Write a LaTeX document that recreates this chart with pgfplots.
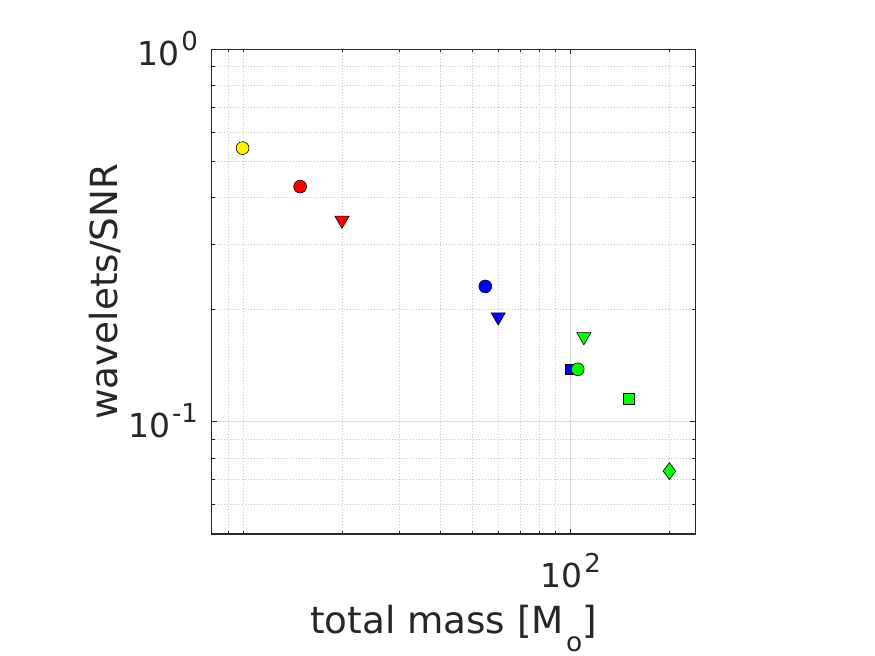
\documentclass[border=0pt]{standalone}
\usepackage{fontspec}
\setmainfont{DejaVu Sans}
\usepackage{pgfplots}
\pgfplotsset{compat=1.18}
\definecolor{txt}{HTML}{262626}
\definecolor{mgrid}{HTML}{DCDCDC}
\definecolor{ngrid}{HTML}{C4C4C4}
\newcommand{\tk}[1]{10\kern1.5bp\raisebox{15bp}{\fontsize{26bp}{26bp}\selectfont #1}}
\begin{document}
\begin{tikzpicture}
\path[use as bounding box] (0,0) rectangle (875bp,656bp);
\begin{axis}[
  at={(211.7bp,122bp)}, anchor=south west,
  scale only axis, width=483.6bp, height=484.7bp,
  xmode=log, ymode=log,
  xmin=8, xmax=240, ymin=0.05, ymax=1,
  xtick={100}, xticklabels={\tk{2}},
  ytick={0.1,1}, yticklabels={\tk{-1},\tk{0}},
  minor xtick={9,10,20,30,40,50,60,70,80,90,200},
  minor ytick={0.06,0.07,0.08,0.09,0.2,0.3,0.4,0.5,0.6,0.7,0.8,0.9},
  grid=both,
  major grid style={draw=mgrid, line width=0.8bp},
  minor grid style={draw=ngrid, dash pattern=on 0.8bp off 2.2bp, line width=0.8bp},
  tick align=inside, major tick length=5bp, minor tick length=3bp,
  tick style={draw=txt, line width=0.8bp},
  axis line style={draw=txt, line width=1.2bp},
  xticklabel style={anchor=base, inner sep=0pt, yshift=-53.3bp, font=\fontsize{33bp}{40bp}\selectfont, text=txt},
  yticklabel style={anchor=base east, inner sep=0pt, xshift=-13.5bp, yshift=-15.7bp, font=\fontsize{33bp}{40bp}\selectfont, text=txt},
  xlabel={total mass [M\kern2bp\raisebox{-18bp}{\fontsize{26.5bp}{26bp}\selectfont o}]},
  ylabel={wavelets/SNR},
  xlabel style={at={(axis description cs:0.5,-0.2043)}, anchor=base, inner sep=0pt, font=\fontsize{37.3bp}{44bp}\selectfont, text=txt},
  ylabel style={at={(axis description cs:-0.1958,0.5)}, anchor=base, inner sep=0pt, font=\fontsize{37.3bp}{44bp}\selectfont, text=txt},
  clip=false,
]
\addplot[only marks, mark=*, mark size=6.4bp, mark options={fill=yellow, draw=black, line width=0.6bp}] coordinates {(9.94,0.543)};
\addplot[only marks, mark=*, mark size=6.4bp, mark options={fill=red, draw=black, line width=0.6bp}] coordinates {(14.9,0.428)};
\addplot[only marks, mark=triangle*, mark size=8.2bp, mark options={rotate=180, fill=red, draw=black, line width=0.6bp}] coordinates {(20,0.3477)};
\addplot[only marks, mark=*, mark size=6.4bp, mark options={fill=blue, draw=black, line width=0.6bp}] coordinates {(54.8,0.231)};
\addplot[only marks, mark=triangle*, mark size=8.2bp, mark options={rotate=180, fill=blue, draw=black, line width=0.6bp}] coordinates {(60,0.1913)};
\addplot[only marks, mark=square*, mark size=5.3bp, mark options={fill=blue, draw=black, line width=0.6bp}] coordinates {(100,0.1384)};
\addplot[only marks, mark=*, mark size=6.4bp, mark options={fill=green, draw=black, line width=0.6bp}] coordinates {(105,0.1384)};
\addplot[only marks, mark=triangle*, mark size=8.2bp, mark options={rotate=180, fill=green, draw=black, line width=0.6bp}] coordinates {(109.6,0.1693)};
\addplot[only marks, mark=square*, mark size=5.3bp, mark options={fill=green, draw=black, line width=0.6bp}] coordinates {(150.4,0.1155)};
\addplot[only marks, mark=diamond*, mark size=8.4bp, mark options={fill=green, draw=black, line width=0.6bp}] coordinates {(200,0.0738)};
\end{axis}
\end{tikzpicture}
\end{document}
